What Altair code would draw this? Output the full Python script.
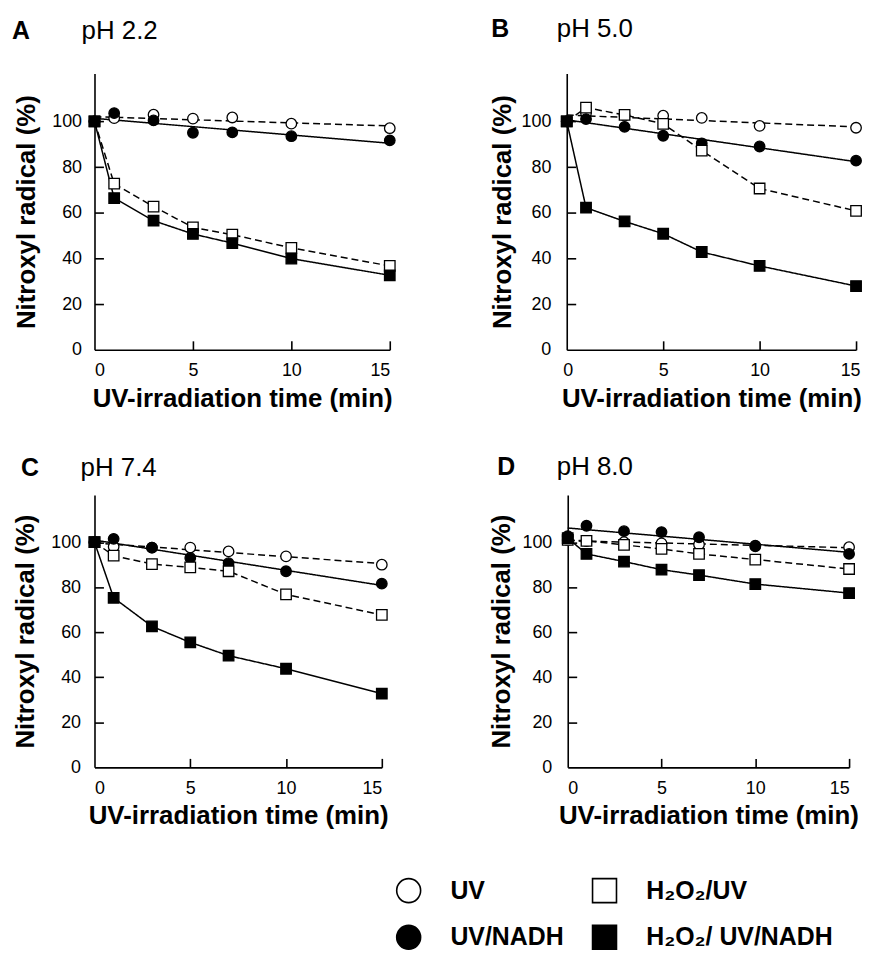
import altair as alt
import pandas as pd

# ---------------- data ----------------
times = [0, 1, 3, 5, 7, 10, 15]
series_names = ["UV", "UV/NADH", "H₂O₂/UV", "H₂O₂/ UV/NADH"]
legend_order = ["UV", "H₂O₂/UV", "UV/NADH", "H₂O₂/ UV/NADH"]
legend_col = [0, 1, 0, 1]
legend_row = [0, 0, 1, 1]

panel_letters = ["A", "B", "C", "D"]
panel_ph = ["pH 2.2", "pH 5.0", "pH 7.4", "pH 8.0"]

a_uv = [100, 101.4, 102.9, 101.2, 101.7, 99.0, 97.0]
a_uv_nadh = [100, 103.6, 100.4, 95.0, 95.2, 93.5, 91.7]
a_h2o2_uv = [100, 72.7, 62.7, 53.6, 50.4, 44.6, 36.7]
a_h2o2_uv_nadh = [100, 66.4, 56.5, 50.7, 46.7, 39.9, 32.6]

b_uv = [100, 103.5, 102.5, 102.5, 101.5, 98.0, 97.2]
b_uv_nadh = [100, 101.0, 97.6, 93.7, 90.4, 89.0, 82.8]
b_h2o2_uv = [100, 106.0, 102.8, 98.9, 87.2, 70.6, 60.8]
b_h2o2_uv_nadh = [100, 62.2, 56.2, 50.8, 42.8, 36.7, 27.9]

c_uv = [100, 98.0, 97.6, 97.6, 95.9, 93.7, 90.0]
c_uv_nadh = [100, 101.5, 97.6, 93.0, 90.7, 87.1, 81.6]
c_h2o2_uv = [100, 94.0, 90.3, 88.8, 87.1, 76.8, 67.7]
c_h2o2_uv_nadh = [100, 75.3, 62.6, 55.5, 49.6, 43.8, 32.7]

d_uv = [101.0, 100.5, 100.0, 99.5, 99.0, 98.5, 97.8]
d_uv_nadh = [102.7, 107.3, 104.9, 104.5, 102.2, 98.2, 94.8]
d_h2o2_uv = [101.0, 100.6, 98.8, 97.0, 94.8, 92.3, 88.1]
d_h2o2_uv_nadh = [101.8, 94.8, 91.4, 87.8, 85.4, 81.4, 77.4]

panel_values = {
    "A": [a_uv, a_uv_nadh, a_h2o2_uv, a_h2o2_uv_nadh],
    "B": [b_uv, b_uv_nadh, b_h2o2_uv, b_h2o2_uv_nadh],
    "C": [c_uv, c_uv_nadh, c_h2o2_uv, c_h2o2_uv_nadh],
    "D": [d_uv, d_uv_nadh, d_h2o2_uv, d_h2o2_uv_nadh],
}

x_ticks = [0, 5, 10, 15]
x_inner_ticks = [5, 10, 15]
y_ticks = [0, 20, 40, 60, 80, 100]
y_inner_ticks = [20, 40, 60, 80, 100]

rows = []
for p in panel_letters:
    for s, vals in zip(series_names, panel_values[p]):
        for t, v in zip(times, vals):
            rows.append({"panel": p, "series": s, "t": t, "v": v})
df = pd.DataFrame(rows)

legend_df = pd.DataFrame({"series": legend_order, "col": legend_col, "row": legend_row})

FONT = "Liberation Sans"

shape_scale = alt.Scale(domain=legend_order, range=["circle", "square", "circle", "square"])
fill_scale = alt.Scale(domain=legend_order, range=["white", "white", "black", "black"])
dash_scale = alt.Scale(domain=series_names, range=[[7, 4], [1, 0], [7, 4], [1, 0]])

ys = alt.Scale(domain=[0, 121], nice=False)
xs = alt.Scale(domain=[0, 15], nice=False)

# per-panel layout: width, height, letter x, pH x, title y, labelPadding, titlePadding, flush
layout = {
    "A": dict(W=297, H=278, lx=-83, px=-13, ty=-35, lp=13, tp=12, flush=False),
    "B": dict(W=291, H=278, lx=-76, px=-10, ty=-37, lp=16, tp=6, flush=True),
    "C": dict(W=289, H=274, lx=-74, px=-14, ty=-19, lp=14, tp=12, flush=False),
    "D": dict(W=283, H=274, lx=-71, px=-11, ty=-20, lp=16, tp=8, flush=False),
}


def panel(letter, ph):
    L = layout[letter]
    W, H = L["W"], L["H"]
    base = alt.Chart(df).transform_filter(alt.datum.panel == letter)

    fit = base.transform_filter(
        alt.FieldOneOfPredicate(field="series", oneOf=["UV", "UV/NADH"])
    ).transform_regression("t", "v", groupby=["series"], extent=[0, 15]).mark_line(
        color="black", strokeWidth=1.5
    ).encode(
        x=alt.X("t:Q", scale=xs, axis=None),
        y=alt.Y("v:Q", scale=ys, axis=None),
        strokeDash=alt.StrokeDash("series:N", scale=dash_scale, legend=None),
    )

    conn = base.transform_filter(
        alt.FieldOneOfPredicate(field="series", oneOf=["H₂O₂/UV", "H₂O₂/ UV/NADH"])
    ).mark_line(color="black", strokeWidth=1.5).encode(
        x=alt.X("t:Q", scale=xs, axis=None),
        y=alt.Y("v:Q", scale=ys, axis=None),
        strokeDash=alt.StrokeDash("series:N", scale=dash_scale, legend=None),
        order="t:Q",
    )

    xaxis_kw = dict(values=x_ticks, ticks=False, labelPadding=12,
                    title="UV-irradiation time (min)", titlePadding=6)
    if L["flush"]:
        xaxis_kw.update(labelFlush=True, labelFlushOffset=4)

    pts = base.mark_point(
        filled=True, size=112, stroke="black", strokeWidth=1.3, opacity=1
    ).encode(
        x=alt.X("t:Q", scale=xs, axis=alt.Axis(**xaxis_kw)),
        y=alt.Y(
            "v:Q", scale=ys,
            axis=alt.Axis(values=y_ticks, ticks=False, labelPadding=L["lp"],
                          title="Nitroxyl radical (%)", titlePadding=L["tp"]),
        ),
        shape=alt.Shape("series:N", scale=shape_scale, legend=None),
        fill=alt.Fill("series:N", scale=fill_scale, legend=None),
    )

    inner = base.mark_point(opacity=0).encode(
        x=alt.X("t:Q", scale=xs,
                axis=alt.Axis(orient="top", offset=-H, values=x_inner_ticks, labels=False,
                              domain=False, ticks=True, tickSize=9, title=None,
                              minExtent=0, maxExtent=0)),
        y=alt.Y("v:Q", scale=ys,
                axis=alt.Axis(orient="right", offset=-W, values=y_inner_ticks, labels=False,
                              domain=False, ticks=True, tickSize=9, title=None,
                              minExtent=0, maxExtent=0)),
    )

    lab = pd.DataFrame({"letter": [letter], "ph": [ph]})
    t_letter = alt.Chart(lab).mark_text(
        font=FONT, fontSize=25, fontWeight="bold", align="left", baseline="alphabetic",
        color="black",
    ).encode(text="letter:N", x=alt.value(L["lx"]), y=alt.value(L["ty"]))
    t_ph = alt.Chart(lab).mark_text(
        font=FONT, fontSize=26, align="left", baseline="alphabetic", color="black",
    ).encode(text="ph:N", x=alt.value(L["px"]), y=alt.value(L["ty"]))

    return alt.layer(fit, conn, pts, inner, t_letter, t_ph).resolve_axis(
        x="independent", y="independent"
    ).properties(width=W, height=H)


top = alt.hconcat(panel("A", "pH 2.2"), panel("B", "pH 5.0"), spacing=91)
bottom = alt.hconcat(panel("C", "pH 7.4"), panel("D", "pH 8.0"), spacing=98)
grid = alt.vconcat(top, bottom, spacing=43)

# ---------------- legend (built from the legend arrays) ----------------
lx = alt.X("col:Q", scale=alt.Scale(domain=[0, 1], range=[316, 513]), axis=None)
ly = alt.Y("row:Q", scale=alt.Scale(domain=[0, 1], range=[13, 60]), axis=None)
leg_sym = alt.Chart(legend_df).mark_point(
    filled=True, size=580, stroke="black", strokeWidth=1.6, opacity=1
).encode(
    x=lx, y=ly,
    shape=alt.Shape("series:N", scale=shape_scale, legend=None),
    fill=alt.Fill("series:N", scale=fill_scale, legend=None),
)
leg_txt = alt.Chart(legend_df).mark_text(
    font=FONT, fontSize=25, fontWeight="bold", align="left", baseline="middle",
    dx=42, color="black",
).encode(x=lx, y=ly, text="series:N")
legend = alt.layer(leg_sym, leg_txt).properties(width=420, height=60)

chart = alt.vconcat(grid, legend, spacing=46).properties(
    padding={"left": 4, "top": 5, "right": 0, "bottom": 0}
).configure_view(stroke=None).configure_axis(
    labelFont=FONT, labelFontSize=18, labelColor="black",
    titleFont=FONT, titleFontSize=26, titleFontWeight="bold", titleColor="black",
    domainColor="black", domainWidth=1.6, tickColor="black", tickWidth=1.6,
    grid=False,
)

chart.save("out.html", embed_options={"renderer": "svg", "actions": False})
